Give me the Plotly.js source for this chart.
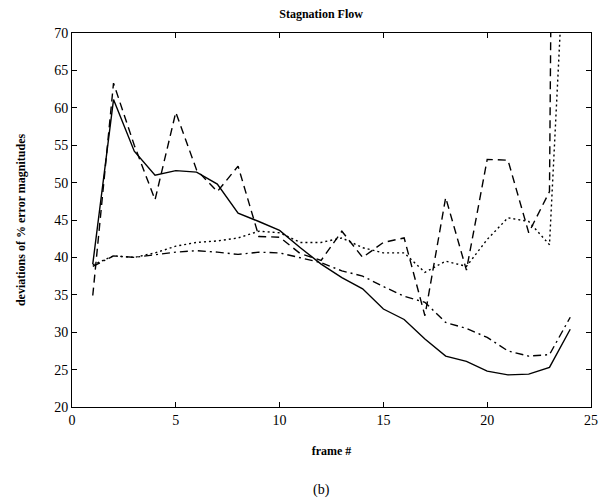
<!DOCTYPE html>
<html>
<head>
<meta charset="utf-8">
<script src="https://cdn.plot.ly/plotly-3.0.1.min.js"></script>
<style>html,body{margin:0;padding:0;background:#fff;}#chart{width:600px;height:502px;}</style>
</head>
<body>
<div id="chart"></div>
<script>
const frames = [1,2,3,4,5,6,7,8,9,10,11,12,13,14,15,16,17,18,19,20,21,22,23,24];
const solid   = [39.1,61.1,54.2,51.0,51.6,51.4,49.8,45.9,44.8,43.6,41.3,39.1,37.3,35.8,33.1,31.7,29.1,26.8,26.1,24.8,24.3,24.4,25.3,30.4];
const dashed  = [34.9,63.3,55.0,47.7,59.4,51.7,48.8,52.2,42.8,42.7,40.5,39.6,43.5,40.0,42.0,42.6,32.2,48.0,38.3,53.1,53.0,43.3,48.8,400];
const dotted  = [39.0,40.2,40.0,40.6,41.5,42.0,42.2,42.6,43.5,43.3,42.0,42.0,42.6,41.3,40.6,40.6,38.0,39.5,38.8,42.4,45.3,44.8,41.7,97];
const dashdot = [38.8,40.2,40.0,40.4,40.7,40.9,40.7,40.4,40.7,40.6,40.0,39.3,38.2,37.5,36.1,34.8,34.0,31.3,30.5,29.3,27.5,26.8,27.0,32.0];
const xTicks = [0,5,10,15,20,25];
const yTicks = [20,25,30,35,40,45,50,55,60,65,70];

const serif = 'Liberation Serif, Times New Roman, serif';
const mk = (y, dash) => ({x: frames, y: y, type: 'scatter', mode: 'lines',
  line: {color: '#000', width: 1.4, dash: dash}, showlegend: false, hoverinfo: 'skip'});

const data = [mk(solid,'solid'), mk(dashed,'8px,5px'), mk(dotted,'2px,3px'), mk(dashdot,'8px,4px,2px,4px')];

const axisCommon = {showgrid: false, zeroline: false, showline: true, linecolor: '#000', linewidth: 1,
  mirror: 'ticks', ticks: 'inside', ticklen: 5, tickcolor: '#000', tickwidth: 1,
  tickfont: {family: serif, size: 14, color: '#000'}};

const layout = {
  width: 600, height: 502,
  margin: {l: 72, r: 9, t: 33, b: 95},
  paper_bgcolor: '#fff', plot_bgcolor: '#fff',
  title: {text: '<b>Stagnation Flow</b>', font: {family: serif, size: 12, color: '#000'},
    x: 0.48, xref: 'paper', y: 1, yref: 'paper', yanchor: 'bottom', pad: {b: 15}},
  xaxis: Object.assign({}, axisCommon, {range: [0,25], tickvals: xTicks, ticktext: xTicks.map(String),
    title: {text: '<b>frame #</b>', font: {family: serif, size: 12, color: '#000'}, standoff: 19}}),
  yaxis: Object.assign({}, axisCommon, {range: [20,70], tickvals: yTicks, ticktext: yTicks.map(String),
    title: {text: '<b>deviations of % error magnitudes</b>', font: {family: serif, size: 12, color: '#000'}, standoff: 26}}),
  annotations: [{text: '(b)', xref: 'paper', yref: 'paper', x: 0.48, y: -0.222, yanchor: 'middle',
    showarrow: false, font: {family: serif, size: 14, color: '#000'}}]
};

Plotly.newPlot('chart', data, layout, {displayModeBar: false, staticPlot: true});
</script>
</body>
</html>
